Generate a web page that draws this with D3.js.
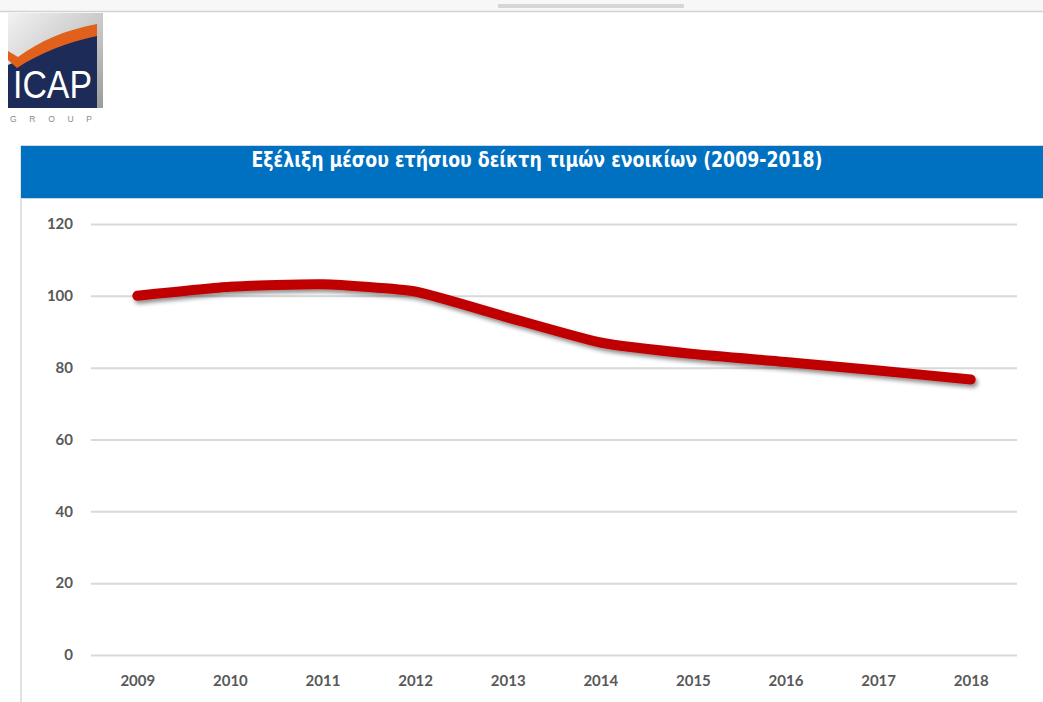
<!DOCTYPE html>
<html>
<head>
<meta charset="utf-8">
<script src="https://cdn.jsdelivr.net/npm/d3@7"></script>
<style>
  html, body { margin: 0; padding: 0; background: #fff; }
  svg { display: block; }
</style>
</head>
<body>
<svg id="chart" width="1043" height="702"></svg>
<script>
// Average annual rent price index, 2009 = 100
const years = ["2009", "2010", "2011", "2012", "2013", "2014", "2015", "2016", "2017", "2018"];
const rentIndex = [100, 102.5, 103.2, 101.2, 94, 87, 83.8, 81.6, 79.2, 76.7];
const yTicks = [0, 20, 40, 60, 80, 100, 120];
const titleText = "Εξέλιξη μέσου ετήσιου δείκτη τιμών ενοικίων (2009-2018)";

const svg = d3.select("#chart");
const W = 1043, H = 702;

const defs = svg.append("defs");
const shadow = defs.append("filter").attr("id", "lineShadow")
  .attr("x", "-10%").attr("y", "-50%").attr("width", "120%").attr("height", "200%");
shadow.append("feDropShadow").attr("dx", 2).attr("dy", 3).attr("stdDeviation", 2)
  .attr("flood-color", "#000").attr("flood-opacity", 0.45);

const logoGrad = defs.append("linearGradient").attr("id", "logoGrad")
  .attr("x1", "0").attr("y1", "0").attr("x2", "1").attr("y2", "1");
logoGrad.append("stop").attr("offset", "0%").attr("stop-color", "#f2f2f2");
logoGrad.append("stop").attr("offset", "60%").attr("stop-color", "#c4c4c4");
logoGrad.append("stop").attr("offset", "100%").attr("stop-color", "#9a9a9a");

// window strip at the top
svg.append("rect").attr("x", 0).attr("y", 0).attr("width", W).attr("height", 11).attr("fill", "#f7f7f7");
svg.append("rect").attr("x", 498).attr("y", 4).attr("width", 186).attr("height", 4).attr("rx", 1).attr("fill", "#d6d6da");
svg.append("line").attr("x1", 0).attr("x2", W).attr("y1", 11.5).attr("y2", 11.5).attr("stroke", "#d2d2d2").attr("stroke-width", 1.5);

// company logo
const logo = svg.append("g");
logo.append("rect").attr("x", 8).attr("y", 13).attr("width", 95).attr("height", 95).attr("fill", "url(#logoGrad)");
logo.append("path")
  .attr("d", "M8,65 C35,53 65,41 97,34 L97,108 L8,108 Z")
  .attr("fill", "#1c2b57");
logo.append("path")
  .attr("d", "M8,51 L8,60 L17,68 C40,53 65,43 97,36 L97,24 C65,30 40,41 18,57 Z")
  .attr("fill", "#e0601c");
logo.append("text").attr("x", 13).attr("y", 98)
  .attr("textLength", 79).attr("lengthAdjust", "spacingAndGlyphs")
  .attr("font-family", "Liberation Sans, Arial, sans-serif").attr("font-size", 39)
  .attr("fill", "#fff").text("ICAP");
logo.append("text").attr("x", 10).attr("y", 122)
  .attr("textLength", 82).attr("lengthAdjust", "spacing")
  .attr("font-family", "Liberation Sans, Arial, sans-serif").attr("font-size", 8.5)
  .attr("fill", "#8a8a8a").text("GROUP");

// chart frame and title bar
svg.append("line").attr("x1", 21).attr("x2", 21).attr("y1", 145).attr("y2", H)
  .attr("stroke", "#d9d9d9").attr("stroke-width", 1.5);
svg.append("line").attr("x1", 21).attr("x2", W).attr("y1", 145.5).attr("y2", 145.5)
  .attr("stroke", "#d0d8e4").attr("stroke-width", 1);
svg.append("rect").attr("x", 21).attr("y", 146).attr("width", W - 21).attr("height", 52).attr("fill", "#0070c0");
svg.append("line").attr("x1", 21).attr("x2", W).attr("y1", 198.5).attr("y2", 198.5)
  .attr("stroke", "#c9d6e6").attr("stroke-width", 1);
svg.append("text").attr("x", 537).attr("y", 167).attr("text-anchor", "middle")
  .attr("textLength", 571).attr("lengthAdjust", "spacingAndGlyphs")
  .attr("font-family", "'DejaVu Sans Condensed', 'Open Sans', sans-serif")
  .attr("font-weight", "bold").attr("font-size", 21).attr("fill", "#fff")
  .text(titleText);

// scales
const x = d3.scalePoint().domain(years).range([91, 1017]).padding(0.5);
const y = d3.scaleLinear().domain([0, 120]).range([655, 224]);

// horizontal gridlines with value labels
const yAxis = d3.axisLeft(y).tickValues(yTicks).tickSize(-(1017 - 91)).tickPadding(18);
const gy = svg.append("g").attr("transform", "translate(91,0)").call(yAxis);
gy.select(".domain").remove();
gy.selectAll(".tick line").attr("stroke", "#d9d9d9").attr("stroke-width", 2);
gy.selectAll(".tick text")
  .attr("font-family", "Lato, 'Open Sans', sans-serif").attr("font-weight", "bold")
  .attr("font-size", 15).attr("fill", "#595959");

// year labels
const xAxis = d3.axisBottom(x).tickSize(0).tickPadding(20);
const gx = svg.append("g").attr("transform", "translate(0,655)").call(xAxis);
gx.select(".domain").remove();
gx.selectAll(".tick text")
  .attr("font-family", "Lato, 'Open Sans', sans-serif").attr("font-weight", "bold")
  .attr("font-size", 15).attr("fill", "#595959");

// index line
const line = d3.line()
  .x((d, i) => x(years[i]))
  .y(d => y(d))
  .curve(d3.curveCardinal.tension(0.5));
svg.append("path").datum(rentIndex)
  .attr("d", line)
  .attr("fill", "none")
  .attr("stroke", "#c00000")
  .attr("stroke-width", 10)
  .attr("stroke-linecap", "round")
  .attr("stroke-linejoin", "round")
  .attr("filter", "url(#lineShadow)");
</script>
</body>
</html>
